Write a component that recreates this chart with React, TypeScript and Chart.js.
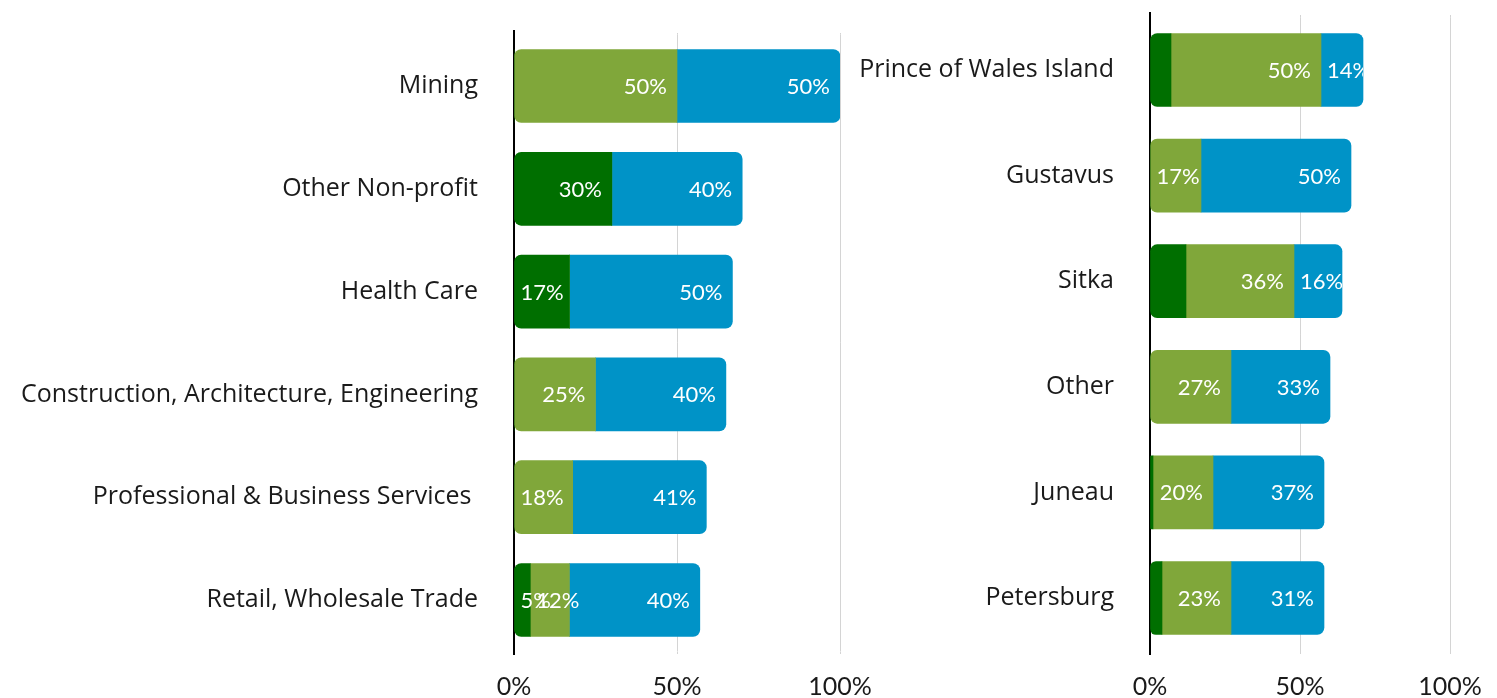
import React, { useEffect, useRef } from "react";
import { Chart, registerables } from "chart.js";

Chart.register(...registerables);

// ---------- data ----------
const industryLabels = [
  "Mining",
  "Other Non-profit",
  "Health Care",
  "Construction, Architecture, Engineering",
  "Professional & Business Services ",
  "Retail, Wholesale Trade",
];
const industryDark = [0, 30, 17, 0, 0, 5];
const industryLight = [50, 0, 0, 25, 18, 12];
const industryBlue = [50, 40, 50, 40, 41, 40];

const communityLabels = [
  "Prince of Wales Island",
  "Gustavus",
  "Sitka",
  "Other",
  "Juneau",
  "Petersburg",
];
const communityDark = [7, 0, 12, 0, 1, 4];
const communityLight = [50, 17, 36, 27, 20, 23];
const communityBlue = [14, 50, 16, 33, 37, 31];

const xTickValues = [0, 50, 100];

const COLOR_DARK = "#006f00";
const COLOR_LIGHT = "#80a73a";
const COLOR_BLUE = "#0093c7";
const GRID_COLOR = "#d4d4d4";
const NUM_FONT = "Lato, 'Noto Sans', sans-serif";
const CAT_FONT = "'Open Sans', Lato, sans-serif";

function radiusFor(ctx: any) {
  const ds = ctx.chart.data.datasets;
  const i = ctx.dataIndex;
  let first = -1;
  let last = -1;
  ds.forEach((d: any, k: number) => {
    if ((d.data[i] as number) > 0) {
      if (first < 0) first = k;
      last = k;
    }
  });
  const r = 7;
  const f = ctx.datasetIndex === first;
  const l = ctx.datasetIndex === last;
  return {
    topLeft: f ? r : 0,
    bottomLeft: f ? r : 0,
    topRight: l ? r : 0,
    bottomRight: l ? r : 0,
  };
}

// extends the axis line and gridlines a few pixels beyond the plot area
const extendPlugin = {
  id: "extendLines",
  beforeDatasetsDraw(chart: any, _args: any, opts: any) {
    const { ctx, chartArea, scales } = chart;
    const up = opts.up || 0;
    const down = opts.down || 0;
    ctx.save();
    ctx.strokeStyle = GRID_COLOR;
    ctx.lineWidth = 1;
    scales.x.ticks.forEach((t: any) => {
      if (t.value === 0) return;
      const x = Math.round(scales.x.getPixelForValue(t.value)) + 0.5;
      ctx.beginPath();
      ctx.moveTo(x, chartArea.top - up + 3);
      ctx.lineTo(x, chartArea.top);
      ctx.moveTo(x, chartArea.bottom);
      ctx.lineTo(x, chartArea.bottom + down - 1);
      ctx.stroke();
    });
    ctx.strokeStyle = "#000000";
    ctx.lineWidth = 2;
    const x0 = scales.x.getPixelForValue(0);
    ctx.beginPath();
    ctx.moveTo(x0, chartArea.top - up);
    ctx.lineTo(x0, chartArea.bottom + down);
    ctx.stroke();
    ctx.restore();
  },
};

const labelPlugin = {
  id: "segLabels",
  afterDatasetsDraw(chart: any) {
    const { ctx } = chart;
    const n = chart.data.labels.length;
    const dsets = chart.data.datasets;
    ctx.save();
    ctx.font = `22px ${NUM_FONT}`;
    ctx.fillStyle = "#ffffff";
    ctx.textBaseline = "middle";
    ctx.textAlign = "left";
    for (let i = 0; i < n; i++) {
      const metas = dsets.map((_: any, k: number) => chart.getDatasetMeta(k));
      let sStart = Infinity;
      let sEnd = -Infinity;
      metas.forEach((m: any) => {
        const el = m.data[i];
        const p = el.getProps(["x", "base"], true);
        sStart = Math.min(sStart, p.x, p.base);
        sEnd = Math.max(sEnd, p.x, p.base);
      });
      dsets.forEach((d: any, k: number) => {
        const v = d.data[i] as number;
        if (!(v > 0) || d.showLabels === false) return;
        const el = metas[k].data[i];
        const { x, base, y, height } = el.getProps(["x", "base", "y", "height"], true);
        const text = `${v}%`;
        const w = ctx.measureText(text).width;
        let left = x - 10 - w;
        if (left < base + 6) left = base + 6;
        ctx.save();
        ctx.beginPath();
        ctx.rect(sStart, y - height / 2, sEnd - sStart, height);
        ctx.clip();
        ctx.fillText(text, left, y + 1);
        ctx.restore();
      });
    }
    ctx.restore();
  },
};

type PanelProps = {
  left: number;
  width: number;
  labels: string[];
  dark: number[];
  light: number[];
  blue: number[];
  showDarkLabels: boolean;
  yWidth: number;
  padTop: number;
  padRight: number;
  xHeight: number;
  extUp: number;
  extDown: number;
};

function BarPanel(p: PanelProps) {
  const ref = useRef<HTMLCanvasElement | null>(null);
  useEffect(() => {
    if (!ref.current) return;
    const mk = (data: number[], color: string, show: boolean) => ({
      data,
      backgroundColor: color,
      borderWidth: 0,
      borderSkipped: false,
      borderRadius: radiusFor,
      barThickness: 73,
      showLabels: show,
    });
    const chart = new Chart(ref.current, {
      type: "bar",
      data: {
        labels: p.labels,
        datasets: [
          mk(p.dark, COLOR_DARK, p.showDarkLabels),
          mk(p.light, COLOR_LIGHT, true),
          mk(p.blue, COLOR_BLUE, true),
        ] as any,
      },
      options: {
        indexAxis: "y",
        responsive: false,
        animation: false,
        layout: { padding: { left: 0, right: p.padRight, top: p.padTop, bottom: 0 } },
        plugins: {
          legend: { display: false },
          tooltip: { enabled: false },
          extendLines: { up: p.extUp, down: p.extDown },
        },
        scales: {
          x: {
            stacked: true,
            min: 0,
            max: 100,
            afterBuildTicks: (scale: any) => {
              scale.ticks = xTickValues.map((v) => ({ value: v }));
            },
            afterFit: (scale: any) => {
              scale.height = p.xHeight;
            },
            grid: {
              color: (c: any) => (c.tick && c.tick.value === 0 ? "rgba(0,0,0,0)" : GRID_COLOR),
              lineWidth: 1,
              drawTicks: false,
            },
            border: { display: false },
            ticks: {
              padding: 21,
              color: "#1a1a1a",
              font: { family: NUM_FONT, size: 25 },
              callback: (v: any) => `${v}%`,
            },
          },
          y: {
            stacked: true,
            afterFit: (scale: any) => {
              scale.width = p.yWidth;
            },
            grid: {
              display: true,
              drawOnChartArea: false,
              drawTicks: true,
              tickLength: 36,
              color: "rgba(0,0,0,0)",
            },
            border: { display: true, color: "#000000", width: 2 },
            ticks: {
              padding: 0,
              color: "#1a1a1a",
              font: { family: CAT_FONT, size: 25 },
              autoSkip: false,
            },
          },
        },
      } as any,
      plugins: [extendPlugin, labelPlugin],
    });
    return () => chart.destroy();
  }, []);
  return (
    <canvas
      ref={ref}
      width={p.width}
      height={698}
      style={{ position: "absolute", left: p.left, top: 0, width: p.width, height: 698 }}
    />
  );
}

export default function App() {
  return (
    <div
      style={{
        position: "fixed",
        left: 0,
        top: 0,
        width: 1497,
        height: 698,
        background: "#ffffff",
        overflow: "hidden",
      }}
    >
      <BarPanel
        left={0}
        width={900}
        labels={industryLabels}
        dark={industryDark}
        light={industryLight}
        blue={industryBlue}
        showDarkLabels={true}
        yWidth={514}
        padTop={34.6}
        padRight={60}
        xHeight={698 - 651.4}
        extUp={4.6}
        extDown={3.6}
      />
      <BarPanel
        left={820}
        width={683}
        labels={communityLabels}
        dark={communityDark}
        light={communityLight}
        blue={communityBlue}
        showDarkLabels={false}
        yWidth={330}
        padTop={17.2}
        padRight={53}
        xHeight={698 - 650.8}
        extUp={5.2}
        extDown={4.2}
      />
    </div>
  );
}
